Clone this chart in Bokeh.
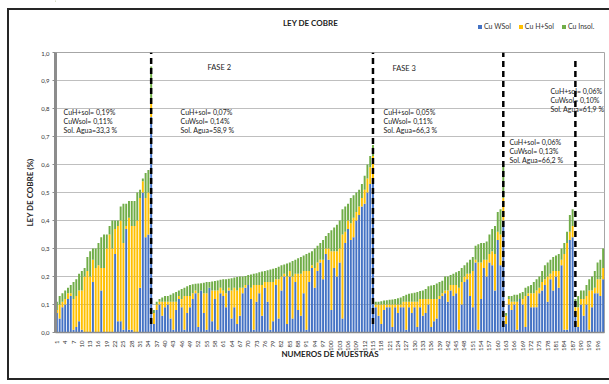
import math
from bokeh.plotting import figure
from bokeh.layouts import column
from bokeh.models import (ColumnDataSource, FixedTicker, Legend, LegendItem, Label,
                          CustomJSTickFormatter, Range1d, InlineStyleSheet)
from bokeh.embed import file_html
from bokeh.resources import INLINE

# Copper grade per sample (%), split into water-soluble, acid-soluble and insoluble parts.
# Phase 1: samples 1-35
fase1_wsol = [0.07, 0.05, 0.09, 0.10, 0.12, 0.13, 0.01, 0.02, 0.04, 0.01,
              0.00, 0.00, 0.00, 0.18, 0.00, 0.00, 0.15, 0.00, 0.00, 0.00,
              0.00, 0.28, 0.04, 0.04, 0.01, 0.37, 0.01, 0.01, 0.00, 0.00,
              0.16, 0.50, 0.34, 0.35, 0.77]
fase1_hsol = [0.01, 0.05, 0.02, 0.02, 0.02, 0.01, 0.11, 0.11, 0.11, 0.14,
              0.20, 0.22, 0.20, 0.08, 0.23, 0.24, 0.08, 0.23, 0.30, 0.35,
              0.30, 0.09, 0.34, 0.36, 0.31, 0.01, 0.40, 0.37, 0.38, 0.40,
              0.32, 0.04, 0.14, 0.15, 0.06]
fase1_insol = [0.03, 0.03, 0.03, 0.03, 0.02, 0.03, 0.06, 0.06, 0.06, 0.07,
               0.03, 0.05, 0.09, 0.04, 0.07, 0.08, 0.11, 0.12, 0.05, 0.03,
               0.10, 0.03, 0.02, 0.05, 0.14, 0.08, 0.06, 0.09, 0.09, 0.10,
               0.03, 0.01, 0.09, 0.08, 0.12]

# Phase 2: samples 36-115
fase2_wsol = [0.03, 0.08, 0.10, 0.06, 0.09, 0.10, 0.05, 0.01, 0.08, 0.12,
              0.09, 0.01, 0.07, 0.09, 0.12, 0.14, 0.02, 0.15, 0.07, 0.01,
              0.16, 0.04, 0.12, 0.01, 0.14, 0.13, 0.09, 0.15, 0.05, 0.09,
              0.03, 0.06, 0.14, 0.16, 0.17, 0.12, 0.01, 0.11, 0.14, 0.06,
              0.16, 0.11, 0.01, 0.04, 0.17, 0.05, 0.15, 0.20, 0.03, 0.20,
              0.05, 0.18, 0.08, 0.06, 0.14, 0.01, 0.18, 0.23, 0.16, 0.22,
              0.25, 0.19, 0.28, 0.26, 0.08, 0.23, 0.20, 0.25, 0.05, 0.32,
              0.37, 0.33, 0.34, 0.40, 0.42, 0.45, 0.46, 0.50, 0.53, 0.55]
fase2_hsol = [0.04, 0.02, 0.01, 0.05, 0.02, 0.01, 0.06, 0.10, 0.03, 0.01,
              0.03, 0.12, 0.06, 0.04, 0.02, 0.01, 0.12, 0.00, 0.07, 0.13,
              0.00, 0.11, 0.03, 0.14, 0.02, 0.02, 0.05, 0.01, 0.10, 0.07,
              0.12, 0.10, 0.02, 0.01, 0.00, 0.04, 0.16, 0.06, 0.03, 0.11,
              0.02, 0.07, 0.17, 0.14, 0.02, 0.14, 0.05, 0.01, 0.17, 0.02,
              0.15, 0.03, 0.13, 0.15, 0.08, 0.21, 0.04, 0.01, 0.07, 0.03,
              0.01, 0.07, 0.02, 0.04, 0.21, 0.06, 0.09, 0.05, 0.30, 0.04,
              0.03, 0.06, 0.07, 0.03, 0.03, 0.03, 0.05, 0.05, 0.06, 0.08]
fase2_insol = [0.010, 0.010, 0.010, 0.015, 0.020, 0.020, 0.025, 0.030, 0.035, 0.020,
               0.035, 0.030, 0.035, 0.040, 0.032, 0.024, 0.035, 0.026, 0.038, 0.040,
               0.020, 0.032, 0.034, 0.036, 0.028, 0.040, 0.050, 0.032, 0.044, 0.036,
               0.048, 0.040, 0.040, 0.032, 0.035, 0.047, 0.040, 0.042, 0.045, 0.048,
               0.040, 0.042, 0.045, 0.048, 0.040, 0.045, 0.040, 0.033, 0.046, 0.030,
               0.055, 0.050, 0.055, 0.060, 0.055, 0.060, 0.065, 0.050, 0.070, 0.060,
               0.060, 0.070, 0.045, 0.055, 0.075, 0.085, 0.095, 0.100, 0.090, 0.090,
               0.060, 0.090, 0.080, 0.070, 0.060, 0.050, 0.050, 0.050, 0.040, 0.040]

# Phase 3: samples 116-162
fase3_wsol = [0.09, 0.06, 0.03, 0.08, 0.09, 0.09, 0.02, 0.09, 0.07, 0.09,
              0.09, 0.01, 0.09, 0.07, 0.09, 0.02, 0.09, 0.06, 0.07, 0.10,
              0.02, 0.04, 0.05, 0.12, 0.13, 0.14, 0.11, 0.15, 0.13, 0.14,
              0.01, 0.10, 0.18, 0.19, 0.13, 0.09, 0.25, 0.01, 0.12, 0.23,
              0.20, 0.25, 0.24, 0.15, 0.33, 0.24, 0.40]
fase3_hsol = [0.01, 0.04, 0.07, 0.02, 0.01, 0.01, 0.08, 0.01, 0.03, 0.01,
              0.02, 0.10, 0.02, 0.04, 0.02, 0.09, 0.03, 0.06, 0.05, 0.02,
              0.10, 0.08, 0.07, 0.01, 0.01, 0.01, 0.04, 0.02, 0.04, 0.03,
              0.15, 0.08, 0.02, 0.02, 0.08, 0.13, 0.01, 0.24, 0.13, 0.03,
              0.06, 0.03, 0.05, 0.13, 0.03, 0.11, 0.08]
fase3_insol = [0.010, 0.010, 0.012, 0.014, 0.015, 0.017, 0.018, 0.020, 0.022, 0.025,
               0.020, 0.025, 0.028, 0.030, 0.032, 0.035, 0.028, 0.030, 0.035, 0.045,
               0.048, 0.050, 0.055, 0.050, 0.045, 0.050, 0.050, 0.035, 0.040, 0.045,
               0.060, 0.050, 0.040, 0.040, 0.050, 0.050, 0.050, 0.065, 0.070, 0.060,
               0.065, 0.070, 0.080, 0.100, 0.070, 0.090, 0.120]

# Phase 4: samples 163-188
fase4_wsol = [0.03, 0.10, 0.08, 0.10, 0.01, 0.12, 0.10, 0.02, 0.13, 0.09,
              0.09, 0.09, 0.14, 0.15, 0.17, 0.11, 0.19, 0.15, 0.20, 0.16,
              0.24, 0.01, 0.01, 0.33, 0.34, 0.06]
fase4_hsol = [0.03, 0.02, 0.03, 0.01, 0.10, 0.00, 0.02, 0.11, 0.01, 0.05,
              0.05, 0.06, 0.02, 0.03, 0.02, 0.09, 0.02, 0.07, 0.02, 0.06,
              0.02, 0.27, 0.31, 0.03, 0.04, 0.03]
fase4_insol = [0.010, 0.010, 0.020, 0.025, 0.025, 0.020, 0.025, 0.030, 0.025, 0.030,
               0.040, 0.040, 0.040, 0.040, 0.050, 0.050, 0.050, 0.050, 0.055, 0.060,
               0.040, 0.040, 0.040, 0.060, 0.060, 0.030]

# Phase 5: samples 189-198
fase5_wsol = [0.02, 0.10, 0.06, 0.10, 0.01, 0.09, 0.14, 0.14, 0.13, 0.19]
fase5_hsol = [0.07, 0.02, 0.06, 0.03, 0.14, 0.06, 0.02, 0.05, 0.06, 0.04]
fase5_insol = [0.04, 0.03, 0.03, 0.04, 0.04, 0.05, 0.06, 0.06, 0.07, 0.07]

cu_wsol = fase1_wsol + fase2_wsol + fase3_wsol + fase4_wsol + fase5_wsol
cu_hsol = fase1_hsol + fase2_hsol + fase3_hsol + fase4_hsol + fase5_hsol
cu_insol = fase1_insol + fase2_insol + fase3_insol + fase4_insol + fase5_insol
muestras = list(range(1, len(cu_wsol) + 1))

# Samples where each phase boundary is marked
limites_fase = [35, 115, 162, 188]
limite_sup = [1.0, 1.0, 1.0, 0.97]
limite_inf = [0.03, 0.03, 0.02, 0.02]

# Phase summaries
resumenes = [
    ["CuH+sol= 0,19%", "CuWsol= 0,11%", "Sol. Agua=33,3 %"],
    ["CuH+sol= 0,07%", "CuWsol= 0,14%", "Sol. Agua=58,9 %"],
    ["CuH+sol= 0,05%", "CuWsol= 0,11%", "Sol. Agua=66,3 %"],
    ["CuH+sol= 0,06%", "CuWsol= 0,13%", "Sol. Agua=66,2 %"],
    ["CuH+sol= 0,06%", "CuWsol= 0,10%", "Sol. Agua=61,9 %"],
]
series = ["Cu WSol", "Cu H+Sol", "Cu Insol."]
colores = ["#4472C4", "#FFC000", "#70AD47"]

FONT = "Lato"

# ---------- header strip: chart title and legend (x in page pixels) ----------
hdr = figure(width=609, height=51, output_backend="svg", toolbar_location=None,
             x_range=Range1d(55, 604), y_range=Range1d(51, 0),
             x_axis_location=None, y_axis_location=None,
             min_border_left=55, min_border_right=5, min_border_top=0, min_border_bottom=0)
hdr.grid.visible = False
hdr.outline_line_color = None
hdr.background_fill_color = "white"
hdr.border_fill_color = "white"

hdr.add_layout(Label(x=310, y=22, text="LEY DE COBRE", text_font=FONT, text_font_size="8px",
                     text_font_style="bold", text_align="center", text_baseline="middle",
                     text_color="#222222"))

# swatches for the legend, kept off-screen
swatches = [hdr.vbar(x=[-1000], top=[1], bottom=[0], width=1, fill_color=c, line_color=None)
            for c in colores]
legend = Legend(items=[LegendItem(label=s, renderers=[r]) for s, r in zip(series, swatches)],
                orientation="horizontal", location=(422, 21),
                glyph_width=5, glyph_height=5, label_standoff=2, spacing=7,
                padding=0, margin=0, border_line_color=None, background_fill_alpha=0,
                label_text_font=FONT, label_text_font_size="7px", label_text_color="#333333",
                label_height=8, label_width=10)
hdr.add_layout(legend)

# ---------- main plot ----------
source = ColumnDataSource(dict(muestra=muestras, wsol=cu_wsol, hsol=cu_hsol, insol=cu_insol))

p = figure(width=609, height=333, output_backend="svg", toolbar_location=None,
           x_range=Range1d(0.5, len(muestras) + 0.5), y_range=Range1d(0, 1.0),
           min_border_left=55, min_border_right=5, min_border_top=1, min_border_bottom=52)
p.background_fill_color = "white"
p.border_fill_color = "white"
p.outline_line_color = "#A6A6A6"
p.outline_line_width = 1

barras = p.vbar_stack(["wsol", "hsol", "insol"], x="muestra", width=0.7,
                      fill_color=colores, line_color=None, source=source)

p.segment(x0=limites_fase, y0=limite_inf, x1=limites_fase, y1=limite_sup,
          line_color="black", line_width=2.5, line_dash="6 4")

# axes
p.yaxis.ticker = FixedTicker(ticks=[0.0, 0.1, 0.2, 0.3, 0.4, 0.5, 0.6, 0.7, 0.8, 0.9, 1.0])
p.yaxis.formatter = CustomJSTickFormatter(code="return tick.toFixed(1).replace('.', ',')")
p.yaxis.axis_label = "LEY DE COBRE (%)"
p.yaxis.axis_line_color = "#8C8C8C"
p.yaxis.axis_line_width = 3
p.yaxis.major_tick_line_color = "#8C8C8C"
p.yaxis.major_tick_out = 3
p.yaxis.major_tick_in = 0
p.yaxis.minor_tick_line_color = None
p.yaxis.major_label_standoff = 3
p.yaxis.axis_label_standoff = 3

p.xaxis.ticker = FixedTicker(ticks=list(range(1, len(muestras) + 1, 3)))
p.xaxis.major_label_orientation = math.pi / 2
p.xaxis.axis_label = "NUMEROS DE MUESTRAS"
p.xaxis.axis_line_color = "#8C8C8C"
p.xaxis.axis_line_width = 1.5
p.xaxis.major_tick_line_color = None
p.xaxis.minor_tick_line_color = None
p.xaxis.major_label_standoff = 2
p.xaxis.axis_label_standoff = -5

for ax in (p.xaxis[0], p.yaxis[0]):
    ax.major_label_text_font = FONT
    ax.major_label_text_font_size = "6px"
    ax.major_label_text_color = "#333333"
    ax.axis_label_text_font = FONT
    ax.axis_label_text_font_size = "8px"
    ax.axis_label_text_font_style = "bold"
    ax.axis_label_text_color = "#222222"

p.xgrid.grid_line_color = None
p.ygrid.grid_line_color = "#BFBFBF"
p.ygrid.grid_line_width = 1.2

# phase labels and summaries
for x, y, t in [(55.3, 0.946, "FASE 2"), (122.0, 0.943, "FASE 3")]:
    p.add_layout(Label(x=x, y=y, text=t, text_font=FONT, text_font_size="7.5px",
                       text_baseline="middle", text_color="#222222"))

posiciones = [(3.4, 0.786), (45.6, 0.789), (118.8, 0.786), (164.2, 0.682), (179.0, 0.861)]
paso = 9 / 280
for (x, y), lineas in zip(posiciones, resumenes):
    for k, t in enumerate(lineas):
        p.add_layout(Label(x=x, y=y - k * paso, text=t, text_font=FONT, text_font_size="7px",
                           text_baseline="middle", text_color="#1A1A1A"))

layout = column(hdr, p, spacing=0)
# chart-area frame drawn around the whole figure
layout.stylesheets = [InlineStyleSheet(css=(
    ":host::after { content: ''; position: fixed; left: 7px; top: 8px; width: 640px; "
    "height: 372px; border: 2px solid #262626; box-sizing: border-box; pointer-events: none; }"
))]

open("out.html", "w").write(file_html(layout, INLINE))
